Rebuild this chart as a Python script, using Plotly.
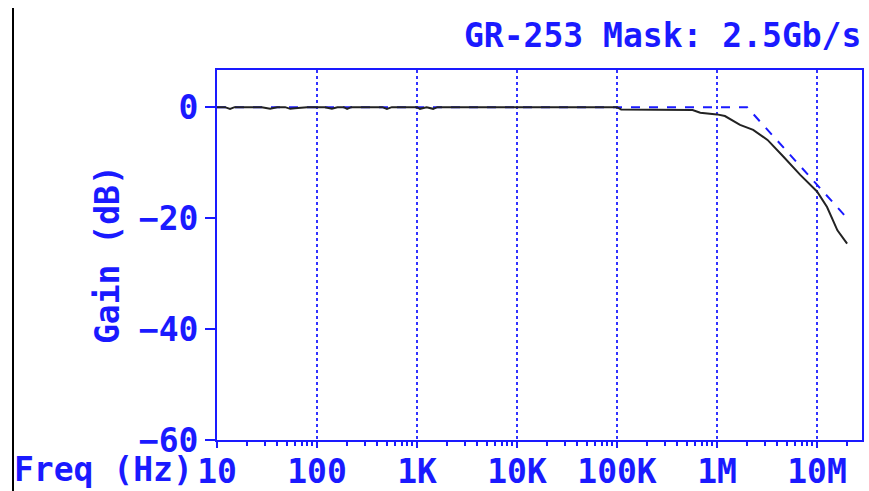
import plotly.graph_objects as go

# Measured jitter transfer (black)
freq_meas = [10, 12, 13.5, 15, 20, 28, 34, 40, 48, 54, 60, 80, 120, 141, 160, 185, 200, 220,
             300, 450, 500, 560, 800, 1000, 1070, 1250, 1450, 1600, 3000, 1e4, 3e4, 1e5,
             1.1e5, 3e5, 5.7e5, 6.8e5, 1e6, 1.2e6, 1.7e6, 2.3e6, 3.2e6, 4.6e6, 6.8e6,
             1e7, 1.26e7, 1.6e7, 2e7]
gain_meas = [0, 0, -0.3, 0, 0, 0, -0.3, 0, 0, -0.3, -0.2, 0, 0, -0.3, 0, 0, -0.3, 0,
             0, 0, -0.3, 0, 0, 0, -0.3, 0, -0.3, 0, 0, 0, 0, 0,
             -0.4, -0.4, -0.5, -1.0, -1.3, -1.6, -3.2, -4.1, -5.9, -8.9, -12.2,
             -15.2, -18.0, -22.2, -24.6]

# GR-253 mask (blue dashed)
freq_mask = [10, 2e6, 2e7]
gain_mask = [0, 0, -20]

xtick_vals = [10, 100, 1e3, 1e4, 1e5, 1e6, 1e7]
xtick_text = ["10", "100", "1K", "10K", "100K", "1M", "10M"]
ytick_vals = [0, -20, -40, -60]

BLUE = "#1a1aff"
FONT = "DejaVu Sans Mono"
FS = 33

def f(size=FS):
    return dict(family=FONT, size=size, color=BLUE, weight="bold")

fig = go.Figure()
fig.add_trace(go.Scatter(x=freq_mask, y=gain_mask, mode="lines",
                         line=dict(color=BLUE, width=2, dash="dash"), showlegend=False))
fig.add_trace(go.Scatter(x=freq_meas, y=gain_meas, mode="lines",
                         line=dict(color="#222222", width=2), showlegend=False))

fig.update_layout(
    width=869, height=491,
    margin=dict(l=217, r=7, t=70, b=51, autoexpand=False),
    paper_bgcolor="white", plot_bgcolor="white",
    font=f(),
    xaxis=dict(type="log", range=[1, 7.45], tickvals=xtick_vals, ticktext=xtick_text,
               showgrid=True, gridcolor="#3333ff", griddash="dot", gridwidth=1.5,
               showline=True, linecolor=BLUE, linewidth=2, mirror=True,
               ticks="outside", ticklen=6, tickcolor=BLUE, tickwidth=2,
               ticklabelstandoff=-5,
               minor=dict(ticks="outside", ticklen=4, tickcolor=BLUE, dtick="D1", showgrid=False),
               tickfont=f(), zeroline=False, automargin=False),
    yaxis=dict(range=[-60, 6.7], tickvals=ytick_vals, showgrid=False,
               showline=True, linecolor=BLUE, linewidth=2, mirror=True,
               ticks="outside", ticklen=10, tickcolor=BLUE, tickwidth=2,
               tickfont=f(), zeroline=False, automargin=False),
)

fig.add_annotation(text="GR-253 Mask: 2.5Gb/s", xref="paper", yref="paper",
                   x=1, y=(440 - 35) / 370, xanchor="right", yanchor="middle",
                   showarrow=False, font=f(), borderpad=0)
fig.add_annotation(text="Gain (dB)", xref="paper", yref="paper",
                   x=(107 - 217) / 645, y=0.5, xanchor="center", yanchor="middle",
                   textangle=-90, showarrow=False, font=f())
fig.add_annotation(text="Freq (Hz)", xref="paper", yref="paper",
                   x=(194 - 217) / 645, y=(440 - 469) / 370, xanchor="right", yanchor="middle",
                   showarrow=False, font=f(), borderpad=0)
fig.add_shape(type="line", xref="paper", yref="paper",
              x0=(13 - 217) / 645, x1=(13 - 217) / 645,
              y0=(440 - 8) / 370, y1=(440 - 491) / 370,
              line=dict(color="black", width=2))

fig.write_html("out.html", config={"displayModeBar": False},
               post_script="document.body.style.margin='0';document.body.style.overflow='hidden';")
